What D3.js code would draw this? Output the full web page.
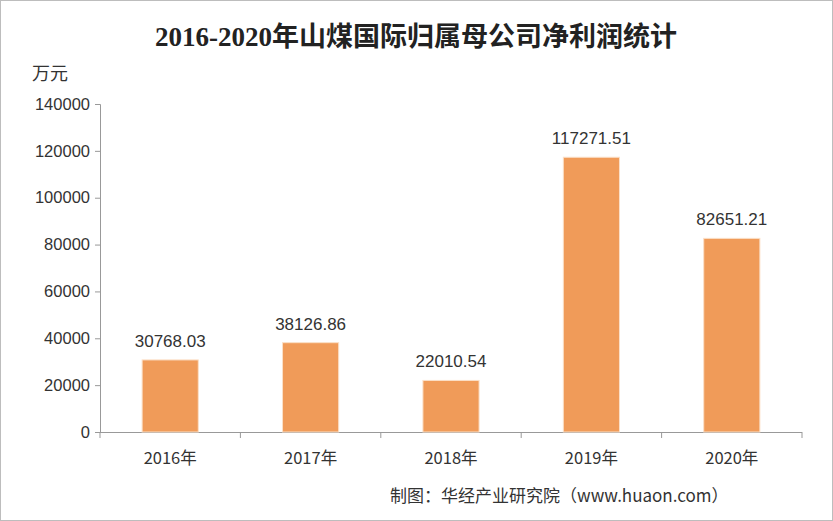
<!DOCTYPE html>
<html><head><meta charset="utf-8">
<script src="https://cdn.jsdelivr.net/npm/d3@7"></script>
<style>body{margin:0;background:#fff}</style>
</head><body><svg id="chart"></svg>
<script>
const years = ["2016年", "2017年", "2018年", "2019年", "2020年"];
const profits = [30768.03, 38126.86, 22010.54, 117271.51, 82651.21];
const yTicks = [0, 20000, 40000, 60000, 80000, 100000, 120000, 140000];

const width = 833, height = 521;
const svg = d3.select("#chart").attr("width", width).attr("height", height);
svg.append("rect").attr("x", 0.5).attr("y", 0.5).attr("width", width - 1).attr("height", height - 1)
    .attr("fill", "#fff").attr("stroke", "#bdbdbd");

const x = d3.scaleBand().domain(years).range([100, 802]).paddingInner(0.6).paddingOuter(0.3);
const y = d3.scaleLinear().domain([0, 140000]).range([432, 104]);
const font = "'Liberation Sans', Arial, sans-serif";

svg.append("text").attr("x", 416).attr("y", 46).attr("text-anchor", "middle")
    .attr("font-family", "'Liberation Serif', 'Noto Sans CJK SC', serif").attr("font-weight", "bold")
    .attr("font-size", 27).attr("fill", "#222").text("2016-2020年山煤国际归属母公司净利润统计");
svg.append("text").attr("x", 32).attr("y", 80).attr("font-family", "'Noto Sans CJK SC', sans-serif")
    .attr("font-size", 18).attr("fill", "#333").text("万元");

const yAxis = svg.append("g").attr("transform", "translate(100,0)")
    .call(d3.axisLeft(y).tickValues(yTicks).tickSize(5).tickFormat(d3.format("d")));
yAxis.selectAll("text").attr("font-family", font).attr("font-size", 16.5).attr("fill", "#333").attr("dx", "-2");
yAxis.selectAll("line, path").attr("stroke", "#999");

const step = x.step();
const bounds = d3.range(years.length + 1).map(i => i === 0 ? 100 : x(years[i - 1]) + x.bandwidth() + step * x.paddingInner() / 2);
bounds[years.length] = 802;
const xg = svg.append("g");
xg.append("line").attr("x1", 100).attr("x2", 802).attr("y1", 432.5).attr("y2", 432.5).attr("stroke", "#999");
xg.selectAll("line.t").data(bounds).join("line").attr("class", "t")
    .attr("x1", d => d).attr("x2", d => d).attr("y1", 432).attr("y2", 438).attr("stroke", "#999");
xg.selectAll("text").data(years).join("text")
    .attr("x", d => x(d) + x.bandwidth() / 2).attr("y", 464).attr("text-anchor", "middle")
    .attr("font-family", "'Noto Sans CJK SC', sans-serif").attr("font-size", 16.5).attr("fill", "#333").text(d => d);

svg.selectAll("rect.bar").data(years).join("rect").attr("class", "bar")
    .attr("x", d => x(d)).attr("width", x.bandwidth())
    .attr("y", (d, i) => y(profits[i])).attr("height", (d, i) => 432 - y(profits[i]))
    .attr("fill", "#f09b59").attr("stroke", "#fbe0c8").attr("stroke-width", 1);

svg.selectAll("text.lbl").data(years).join("text").attr("class", "lbl")
    .attr("x", d => x(d) + x.bandwidth() / 2).attr("y", (d, i) => y(profits[i]) - 13)
    .attr("text-anchor", "middle").attr("font-family", font).attr("font-size", 17).attr("fill", "#333")
    .text((d, i) => d3.format(".2f")(profits[i]));

svg.append("text").attr("x", 390).attr("y", 502).attr("font-family", "'Noto Sans CJK SC', sans-serif")
    .attr("font-size", 17).attr("fill", "#333").text("制图：华经产业研究院（www.huaon.com）");
</script></body></html>
